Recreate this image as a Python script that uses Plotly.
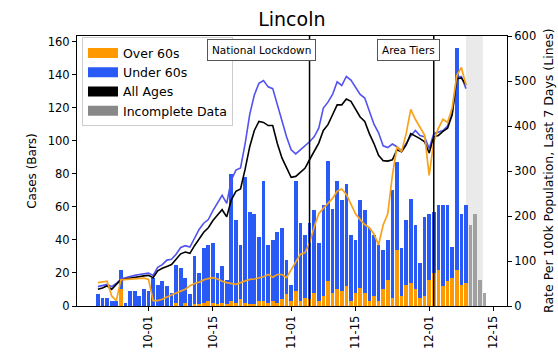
import pandas as pd
import plotly.graph_objects as go

# ---- data ----
start_date = "2020-09-20"
total_cases = [7, 5, 5, 3, 3, 22, 2, 9, 9, 6, 10,
               9, 17, 13, 15, 12, 8, 25, 23, 17, 7,
               30, 20, 35, 37, 38, 20, 24, 16, 80, 52,
               37, 78, 57, 56, 42, 76, 37, 40, 45, 47,
               28, 13, 76, 50, 43, 50, 58, 38, 61, 88,
               59, 76, 64, 74, 43, 40, 64, 58, 47, 43,
               37, 34, 40, 70, 87, 35, 52, 65, 49, 26,
               54, 56, 57, 61, 61, 61, 36, 156, 56, 61]
over60_cases = [0, 0, 0, 0, 0, 10, 0, 0, 0, 0, 0,
                0, 0, 0, 0, 0, 0, 2, 0, 2, 0,
                1, 1, 2, 3, 2, 1, 2, 1, 3, 2,
                4, 2, 1, 1, 3, 3, 2, 3, 2, 4,
                7, 3, 9, 3, 5, 4, 8, 3, 6, 15,
                8, 10, 9, 12, 3, 8, 11, 8, 3, 6,
                3, 10, 16, 5, 34, 6, 13, 14, 10, 5,
                6, 16, 20, 22, 12, 15, 17, 22, 13, 14]
incomplete_start = "2020-12-10"
incomplete_cases = [49, 56, 16, 8]

rate_under60 = [43, 45, 48, 43, 50, 60, 63, 66, 68, 70, 72,
                73, 68, 86, 92, 102, 104, 115, 130, 134, 131,
                152, 170, 184, 192, 212, 230, 246, 228, 280, 302,
                307, 361, 426, 469, 495, 501, 487, 483, 447, 412,
                376, 347, 338, 347, 355, 365, 376, 395, 440, 453,
                470, 498, 490, 510, 502, 485, 470, 462, 435, 404,
                385, 356, 352, 360, 354, 345, 361, 378, 390, 379,
                376, 350, 383, 386, 390, 400, 428, 509, 510, 483]
rate_all = [37, 40, 45, 37, 48, 58, 60, 62, 63, 65, 67,
            68, 63, 78, 84, 88, 92, 104, 116, 120, 117,
            134, 150, 164, 174, 190, 202, 214, 198, 236, 255,
            260, 304, 354, 390, 410, 408, 401, 401, 361, 329,
            307, 286, 288, 297, 306, 325, 345, 362, 390, 403,
            425, 447, 447, 460, 455, 438, 420, 410, 383, 361,
            335, 323, 322, 325, 347, 343, 358, 383, 378, 372,
            365, 340, 376, 379, 388, 395, 425, 505, 507, 491]
rate_over60 = [52, 54, 55, 22, 12, 58, 59, 60, 61, 62, 62,
               59, 12, 12, 15, 20, 25, 29, 33, 37, 45,
               50, 53, 58, 61, 63, 60, 55, 52, 50, 48,
               52, 56, 59, 60, 63, 65, 70, 64, 70, 70,
               63, 80, 100, 115, 118, 140, 175, 205, 217, 228,
               239, 255, 260, 248, 225, 205, 192, 181, 174, 160,
               136, 180, 205, 290, 354, 343, 383, 437, 415, 397,
               380, 290, 365, 395, 415, 408, 440, 512, 530, 491]

events = ["2020-11-05", "2020-12-02"]
event_labels = ["National Lockdown", "Area Tiers"]
tick_dates = ["2020-10-01", "2020-10-15", "2020-11-01", "2020-11-15", "2020-12-01", "2020-12-15"]
tick_labels = ["10-01", "10-15", "11-01", "11-15", "12-01", "12-15"]

# ---- build ----
dates = pd.date_range(start_date, periods=len(total_cases))
line_dates = pd.date_range(start_date, periods=len(rate_all))
inc_dates = pd.date_range(incomplete_start, periods=len(incomplete_cases))
under60_cases = [t - o for t, o in zip(total_cases, over60_cases)]

ORANGE = "#ff9900"
BLUE = "#2a5af5"
LBLUE = "#5252ee"
LORANGE = "#f7a21b"
GRAY = "#888888"
DAY = 86400000
FONT = "DejaVu Sans"

fig = go.Figure()
fig.add_bar(x=dates, y=over60_cases, marker=dict(color=ORANGE, line=dict(width=0)),
            width=0.8 * DAY, showlegend=False, name="Over 60s")
fig.add_bar(x=dates, y=under60_cases, marker=dict(color=BLUE, line=dict(width=0)),
            width=0.8 * DAY, showlegend=False, name="Under 60s")
fig.add_bar(x=inc_dates, y=incomplete_cases, marker=dict(color=GRAY, line=dict(width=0)),
            opacity=0.75, width=0.8 * DAY, showlegend=False, name="Incomplete Data")

fig.add_scatter(x=line_dates, y=rate_under60, yaxis="y2", mode="lines",
                line=dict(color=LBLUE, width=1.6), showlegend=False)
fig.add_scatter(x=line_dates, y=rate_all, yaxis="y2", mode="lines",
                line=dict(color="black", width=1.6), showlegend=False)
fig.add_scatter(x=line_dates, y=rate_over60, yaxis="y2", mode="lines",
                line=dict(color=LORANGE, width=1.7), showlegend=False)

# legend keys (patches)
for nm, col in [("Over 60s", ORANGE), ("Under 60s", BLUE), ("All Ages", "black"),
                ("Incomplete Data", GRAY)]:
    fig.add_scatter(x=[None], y=[None], mode="lines", name=nm,
                    line=dict(color=col, width=10), showlegend=True)

shapes = [dict(type="rect", xref="x", yref="y domain", x0="2020-12-09", x1="2020-12-12 16:00",
               y0=0, y1=1, fillcolor="#d9d9d9", opacity=0.55, line=dict(width=0), layer="below")]
annotations = []
for d, lab in zip(events, event_labels):
    shapes.append(dict(type="line", xref="x", yref="y domain", x0=d, x1=d, y0=0, y1=1,
                       line=dict(color="black", width=1.5)))
    annotations.append(dict(x=d, xref="x", y=0.95, yref="paper", text=lab, showarrow=False,
                            xanchor="right", xshift=6, yanchor="middle",
                            font=dict(family=FONT, size=10.5, color="black"),
                            bgcolor="white", bordercolor="#555555", borderwidth=1, borderpad=4))

# right axis title placed as rotated text
annotations.append(dict(x=1, xref="paper", xshift=41, xanchor="center",
                        y=0.5, yref="paper", yanchor="middle", textangle=-90,
                        text="Rate Per 100k Population, Last 7 Days (Lines)", showarrow=False,
                        font=dict(family=FONT, size=12.5, color="black")))

fig.update_layout(
    width=558, height=361,
    margin=dict(l=77, r=51, t=36, b=47),
    paper_bgcolor="white", plot_bgcolor="white",
    font=dict(family=FONT, size=12, color="black"),
    title=dict(text="Lincoln", x=0.523, xanchor="center", y=1 - 19 / 361, yanchor="middle",
               yref="container", font=dict(family=FONT, size=19, color="black")),
    barmode="stack", bargap=0,
    showlegend=True,
    legend=dict(x=0.0116, y=0.995, xanchor="left", yanchor="top", traceorder="normal",
                bgcolor="rgba(255,255,255,0.85)", bordercolor="#cccccc", borderwidth=1,
                font=dict(family=FONT, size=12.5), tracegroupgap=0, itemwidth=30),
    xaxis=dict(type="date", range=["2020-09-15 11:00", "2020-12-17 22:00"],
               tickvals=tick_dates, ticktext=tick_labels, tickangle=-90,
               ticks="outside", ticklen=4, tickcolor="black",
               showline=True, linecolor="black", linewidth=1, mirror=True,
               showgrid=False, zeroline=False, tickfont=dict(size=11.5)),
    yaxis=dict(range=[0, 163.5], tickvals=list(range(0, 161, 20)),
               ticks="outside", ticklen=4, tickcolor="black",
               showline=True, linecolor="black", linewidth=1,
               showgrid=False, zeroline=False, tickfont=dict(size=11.5),
               title=dict(text="Cases (Bars)", font=dict(size=12), standoff=8)),
    yaxis2=dict(range=[0, 600], tickvals=list(range(0, 601, 100)), overlaying="y", side="right",
                ticks="outside", ticklen=4, tickcolor="black",
                showline=True, linecolor="black", linewidth=1,
                showgrid=False, zeroline=False, tickfont=dict(size=11.5)),
    shapes=shapes, annotations=annotations,
)

fig.write_html("out.html", config={"displayModeBar": False},
               post_script="document.body.style.margin='0';")
